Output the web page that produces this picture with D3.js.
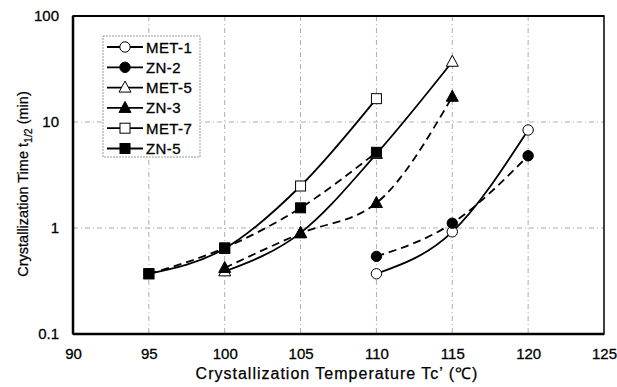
<!DOCTYPE html>
<html><head><meta charset="utf-8">
<script src="https://cdn.jsdelivr.net/npm/d3@7"></script>
<style>body{margin:0;background:#fff;} svg{display:block;font-family:"Liberation Sans",Arial,sans-serif;}</style>
</head><body>
<svg id="c" width="617" height="387"></svg>
<script>
const xTicks = [90, 95, 100, 105, 110, 115, 120, 125];
const yTicks = [0.1, 1, 10, 100];
const yTickLabels = ["0.1", "1", "10", "100"];
const seriesNames = ["MET-1", "ZN-2", "MET-5", "ZN-3", "MET-7", "ZN-5"];
const met1 = [[110, 0.37], [115, 0.92], [120, 8.4]];
const zn2 = [[110, 0.54], [115, 1.11], [120, 4.8]];
const met5 = [[100, 0.39], [105, 0.90], [110, 5.0], [115, 37]];
const zn3 = [[100, 0.42], [105, 0.89], [110, 1.72], [115, 17.3]];
const met7 = [[95, 0.37], [100, 0.64], [105, 2.49], [110, 16.6]];
const zn5 = [[95, 0.37], [100, 0.65], [105, 1.55], [110, 5.18]];

const series = [
  {name: seriesNames[0], data: met1, marker: "circle", fill: false, dash: null},
  {name: seriesNames[1], data: zn2, marker: "circle", fill: true, dash: "8,5"},
  {name: seriesNames[2], data: met5, marker: "triangle", fill: false, dash: null},
  {name: seriesNames[3], data: zn3, marker: "triangle", fill: true, dash: "8,5"},
  {name: seriesNames[4], data: met7, marker: "square", fill: false, dash: null},
  {name: seriesNames[5], data: zn5, marker: "square", fill: true, dash: "8,5"}
];

const svg = d3.select("#c");
const L = 73, R = 604, T = 16, B = 334;
const x = d3.scaleLinear().domain([90, 125]).range([L, R]);
const y = d3.scaleLog().domain([0.1, 100]).range([B, T]);
const FONT = "Liberation Sans, Arial, sans-serif";

// grid
const g = svg.append("g");
g.selectAll("line.vx").data(xTicks.slice(1, -1)).enter().append("line")
  .attr("x1", d => x(d)).attr("x2", d => x(d)).attr("y1", T).attr("y2", B)
  .attr("stroke", "#888").attr("stroke-width", 0.7).attr("stroke-dasharray", "5,3,1,3");
g.selectAll("line.hy").data(yTicks.slice(1, -1)).enter().append("line")
  .attr("y1", d => y(d)).attr("y2", d => y(d)).attr("x1", L).attr("x2", R)
  .attr("stroke", "#888").attr("stroke-width", 0.7).attr("stroke-dasharray", "5,3,1,3");

// axes
const xAxis = d3.axisBottom(x).tickValues(xTicks).tickSize(0).tickPadding(14);
const xg = svg.append("g").attr("transform", `translate(0,${B})`).call(xAxis);
xg.select(".domain").remove();
xg.selectAll("text").attr("font-size", 15).attr("fill", "#000").attr("stroke", "#000").attr("stroke-width", 0.3).attr("font-family", FONT);

const yAxis = d3.axisLeft(y).tickValues(yTicks).tickFormat((d, i) => yTickLabels[i]).tickSize(0).tickPadding(14);
const yg = svg.append("g").attr("transform", `translate(${L},0)`).call(yAxis);
yg.select(".domain").remove();
yg.selectAll("text").attr("font-size", 15).attr("fill", "#000").attr("stroke", "#000").attr("stroke-width", 0.3).attr("font-family", FONT);

// frame
svg.append("rect").attr("x", L).attr("y", T).attr("width", R - L).attr("height", B - T)
  .attr("fill", "none").attr("stroke", "#000").attr("stroke-width", 1.5);
svg.append("line").attr("x1", L).attr("x2", L).attr("y1", T).attr("y2", B).attr("stroke", "#000").attr("stroke-width", 2.5);
svg.append("line").attr("x1", L).attr("x2", R).attr("y1", B).attr("y2", B).attr("stroke", "#000").attr("stroke-width", 2.5);
svg.append("line").attr("x1", L).attr("x2", R).attr("y1", T).attr("y2", T).attr("stroke", "#000").attr("stroke-width", 2);

// lines
const line = d3.line().x(d => x(d[0])).y(d => y(d[1])).curve(d3.curveMonotoneX);
function drawMarker(sel, type, fill, cx, cy) {
  const f = fill ? "#000" : "#fff";
  if (type === "circle") {
    sel.append("circle").attr("cx", cx).attr("cy", cy).attr("r", 5.2)
      .attr("fill", f).attr("stroke", "#000").attr("stroke-width", 1);
  } else if (type === "square") {
    sel.append("rect").attr("x", cx - 5).attr("y", cy - 5).attr("width", 10).attr("height", 10)
      .attr("fill", f).attr("stroke", "#000").attr("stroke-width", 1);
  } else {
    sel.append("path").attr("d", `M${cx},${cy - 6.5}L${cx + 6},${cy + 4.5}L${cx - 6},${cy + 4.5}Z`)
      .attr("fill", f).attr("stroke", "#000").attr("stroke-width", 1);
  }
}
series.forEach(s => {
  svg.append("path").datum(s.data).attr("d", line).attr("fill", "none")
    .attr("stroke", "#000").attr("stroke-width", 1.8)
    .attr("stroke-dasharray", s.dash);
});
series.forEach(s => {
  const mg = svg.append("g");
  s.data.forEach(d => drawMarker(mg, s.marker, s.fill, x(d[0]), y(d[1])));
});

// legend
const lg = svg.append("g");
lg.append("rect").attr("x", 103).attr("y", 36).attr("width", 97).attr("height", 121)
  .attr("fill", "#fff").attr("stroke", "#999").attr("stroke-width", 1).attr("stroke-dasharray", "2,1");
series.forEach((s, i) => {
  const yy = 47 + i * 20.3;
  lg.append("line").attr("x1", 107).attr("x2", 143).attr("y1", yy).attr("y2", yy)
    .attr("stroke", "#000").attr("stroke-width", 1.8);
  drawMarker(lg, s.marker, s.fill, 125, yy);
  lg.append("text").attr("x", 146).attr("y", yy + 5.5).attr("font-size", 15)
    .attr("letter-spacing", 0.4).attr("stroke", "#000").attr("stroke-width", 0.3).text(s.name);
});

// axis titles
svg.append("text").attr("x", 337).attr("y", 379).attr("text-anchor", "middle").attr("font-size", 16)
  .attr("letter-spacing", 1).attr("stroke", "#000").attr("stroke-width", 0.25)
  .text("Crystallization Temperature Tc\u2019 (\u2103)");
const yt = svg.append("text").attr("transform", "translate(28,184) rotate(-90)")
  .attr("text-anchor", "middle").attr("font-size", 14.5)
  .attr("stroke", "#000").attr("stroke-width", 0.25);
yt.append("tspan").text("Crystallization Time t");
yt.append("tspan").attr("font-size", 10.5).attr("dy", 4).text("1/2");
yt.append("tspan").attr("dy", -4).text(" (min)");
</script>
</body></html>
